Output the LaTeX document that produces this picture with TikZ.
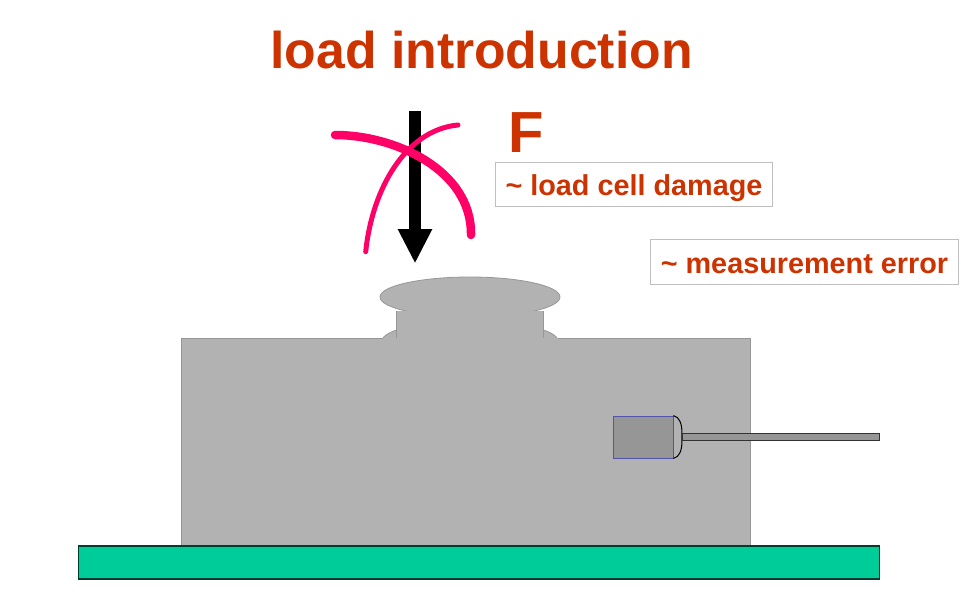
\documentclass[tikz,border=0pt]{standalone}
\usepackage{fontspec}
\setmainfont{Liberation Sans}
\usetikzlibrary{
  arrows.meta,
  positioning,
  shapes.geometric
}
\usepackage{xcolor}
\definecolor{cnred}{HTML}{CC3300}
\definecolor{cnpink}{HTML}{FF0066}
\definecolor{cngray}{HTML}{B2B2B2}
\definecolor{cnsensor}{HTML}{969696}
\definecolor{cngreen}{HTML}{00CC99}

\begin{document}
\begin{tikzpicture}[
  x=1pt,
  y=-1pt,
  part/.style={draw=cngray!85!black, fill=cngray, line width=0.8pt, inner sep=0pt},
  remark/.style={draw=black!25, fill=white, line width=0.8pt, inner sep=0pt, text=cnred,
    minimum height=44pt, text height=23pt, text depth=0pt, font=\fontsize{28.8}{32}\selectfont\bfseries},
  cross/.style={draw=cnpink, line cap=round}
]
  \useasboundingbox (0,0) rectangle (966,597);

  \node[text=cnred, anchor=base, font=\fontsize{51.7}{56}\selectfont\bfseries] (title) at (481.5,68) {load introduction};

  % Load cell
  \node[part, ellipse, minimum width=176pt, minimum height=40pt] (shoulder) at (470,341) {};
  \node[part, minimum width=568.5pt, minimum height=207pt] (body) at (466,441.5) {};
  \node[part, ellipse, minimum width=180pt, minimum height=40pt] (head) at (470,297) {};
  \node[part, minimum width=146pt, minimum height=28pt, draw=none] (neck) at (470,325) {};
  \draw[cngray!85!black, line width=0.8pt] (neck.north west) -- (neck.south west);
  \draw[cngray!85!black, line width=0.8pt] (neck.north east) -- (neck.south east);
  \fill[cngray] (shoulder.west |- body.north) ++(1,0.6) rectangle (shoulder.east |- body.north);
  \node[draw=black!70!cngreen, fill=cngreen, line width=1.2pt, minimum width=801pt, minimum height=33pt, inner sep=0pt] (plate) at (479,562.5) {};

  % Sensor and cable
  \node[draw=blue!35!gray, fill=cnsensor, line width=0.8pt, minimum width=60pt, minimum height=42pt, inner sep=0pt] (sensor) at (643,437) {};
  \draw[black, line width=1pt] (sensor.north east) .. controls +(6,1) and +(0,-8) .. ([xshift=8.5pt,yshift=5pt]sensor.east)
    -- ([xshift=8.5pt,yshift=-5pt]sensor.east) .. controls +(0,8) and +(6,-1) .. (sensor.south east);
  \node[draw=black!80, fill=cnsensor, line width=1pt, minimum width=197pt, minimum height=7pt, inner sep=0pt, right=9pt of sensor, yshift=0.5pt] (cable) {};

  % Force
  \coordinate (top) at (415,111);
  \coordinate (tip) at (415,263.5);
  \draw[-{Triangle[width=32pt,length=34.5pt]}, line width=12pt] (top) -- (tip);
  \node[text=cnred, anchor=base, font=\fontsize{58}{62}\selectfont\bfseries] (force) at (526.5,152) {F};

  % Crossed out
  \draw[cross, line width=5pt] (365.7,251.7) .. controls (372,190) and (405,130) .. (458,125);
  \draw[cross, line width=8.5pt] (335,135) .. controls (395,135) and (472,170) .. (471,235);

  % Remarks
  \node[remark, minimum width=277.5pt] (damage) at (634,184.3) {\textasciitilde{} load cell damage};
  \node[remark, minimum width=308pt, minimum height=45pt] (error) at (804.5,261.8) {\textasciitilde{} measurement error};

\end{tikzpicture}
\end{document}
